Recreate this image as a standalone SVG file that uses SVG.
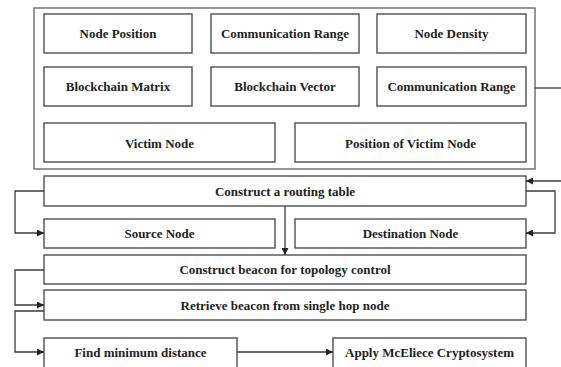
<svg xmlns="http://www.w3.org/2000/svg" width="561" height="367" viewBox="0 0 561 367">
  <style>
    .box { fill: #ffffff; stroke: #4d4d57; stroke-width: 1.4; }
    .frame { fill: #ffffff; stroke: #6a6a70; stroke-width: 1.4; }
    .lbl { font-family: "Liberation Serif", "Times New Roman", serif; font-weight: bold; font-size: 13px; fill: #222222; text-anchor: middle; }
    .wire { fill: none; stroke: #3a3a3a; stroke-width: 1.3; }
  </style>
  <defs>
    <marker id="arrow" viewBox="0 0 10 10" refX="10" refY="5" markerWidth="7" markerHeight="7" markerUnits="userSpaceOnUse" orient="auto">
      <path d="M0,0 L10,5 L0,10 Z" fill="#222222"/>
    </marker>
  </defs>
  <rect width="561" height="367" fill="#ffffff"/>

  <!-- parameter panel -->
  <g id="parameters">
    <rect class="frame" x="34" y="8" width="501" height="161"/>
  </g>
  <g id="node-position"><rect class="box" x="44" y="14" width="148" height="39"/><text class="lbl" x="118" y="38">Node Position</text></g>
  <g id="communication-range-1"><rect class="box" x="211" y="14" width="148" height="39"/><text class="lbl" x="285" y="38">Communication Range</text></g>
  <g id="node-density"><rect class="box" x="377" y="14" width="149" height="39"/><text class="lbl" x="451.5" y="38">Node Density</text></g>
  <g id="blockchain-matrix"><rect class="box" x="44" y="67" width="148" height="39"/><text class="lbl" x="118" y="91">Blockchain Matrix</text></g>
  <g id="blockchain-vector"><rect class="box" x="211" y="67" width="148" height="39"/><text class="lbl" x="285" y="91">Blockchain Vector</text></g>
  <g id="communication-range-2"><rect class="box" x="377" y="67" width="149" height="39"/><text class="lbl" x="451.5" y="91">Communication Range</text></g>
  <g id="victim-node"><rect class="box" x="44" y="123" width="231" height="39"/><text class="lbl" x="159.5" y="147.5">Victim Node</text></g>
  <g id="victim-position"><rect class="box" x="295" y="123" width="231" height="39"/><text class="lbl" x="410.5" y="147.5">Position of Victim Node</text></g>

  <!-- process steps -->
  <g id="routing-table"><rect class="box" x="44" y="176" width="482" height="30"/><text class="lbl" x="285" y="195.5">Construct a routing table</text></g>
  <g id="source-node"><rect class="box" x="44" y="219" width="231" height="29"/><text class="lbl" x="159.5" y="238">Source Node</text></g>
  <g id="destination-node"><rect class="box" x="295" y="219" width="231" height="29"/><text class="lbl" x="410.5" y="238">Destination Node</text></g>
  <g id="construct-beacon"><rect class="box" x="44" y="255" width="482" height="29"/><text class="lbl" x="285" y="274">Construct beacon for topology control</text></g>
  <g id="retrieve-beacon"><rect class="box" x="44" y="290" width="482" height="30"/><text class="lbl" x="285" y="310">Retrieve beacon from single hop node</text></g>
  <g id="min-distance"><rect class="box" x="44" y="338" width="193" height="32"/><text class="lbl" x="140.5" y="357">Find minimum distance</text></g>
  <g id="mceliece"><rect class="box" x="333" y="338" width="193" height="32"/><text class="lbl" x="429.5" y="357">Apply McEliece Cryptosystem</text></g>

  <!-- connectors -->
  <g id="connectors">
    <path class="wire" d="M535,88 H561"/>
    <path class="wire" d="M561,181 H526" marker-end="url(#arrow)"/>
    <path class="wire" d="M44,191 H15 V233 H44" marker-end="url(#arrow)"/>
    <path class="wire" d="M526,191 H555 V233 H526" marker-end="url(#arrow)"/>
    <path class="wire" d="M285,206 V255" marker-end="url(#arrow)"/>
    <path class="wire" d="M44,270 H15 V305 H44" marker-end="url(#arrow)"/>
    <path class="wire" d="M44,311 H15 V352 H44" marker-end="url(#arrow)"/>
    <path class="wire" d="M237,352 H333" marker-end="url(#arrow)"/>
  </g>
</svg>
